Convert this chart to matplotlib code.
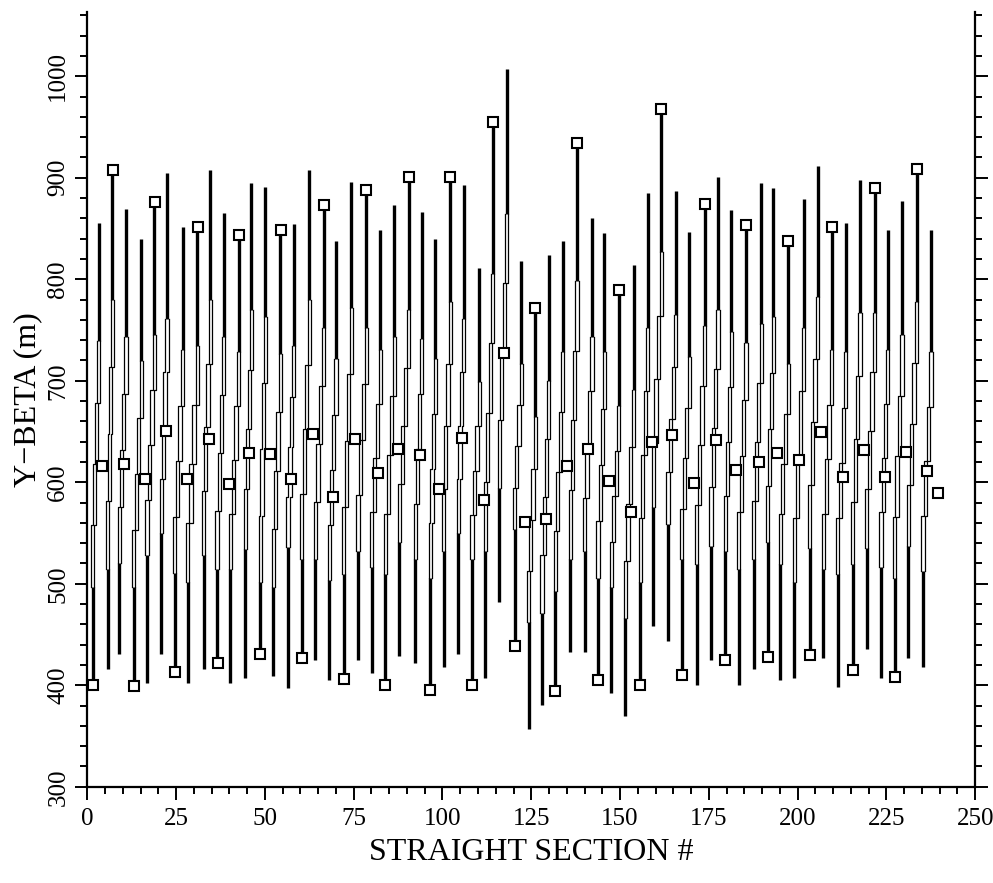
import matplotlib
matplotlib.use("Agg")
import matplotlib.pyplot as plt
from matplotlib.ticker import MultipleLocator

# peaks: x of the upper thick segment, peak beta, beta where the hollow part starts
top_x = [3.2, 7.0, 10.9, 15.2, 18.9, 22.4, 26.8, 30.9, 34.6, 38.4, 42.6, 46.2,
         50.1, 54.3, 58.1, 62.5, 66.5, 70.0, 74.3, 78.5, 82.5, 86.4, 90.5, 94.2,
         98.0, 102.2, 106.0, 110.4, 114.1, 118.1, 122.2, 126.1, 129.9, 133.8, 137.9,
         142.1, 145.6, 149.6, 153.8, 157.8, 161.6, 165.7, 169.5, 173.8, 177.6,
         181.3, 185.5, 189.8, 193.2, 197.4, 201.7, 205.7, 209.6, 213.6, 217.6,
         221.7, 225.4, 229.4, 233.6, 237.6]
top_beta = [855, 908, 869, 840, 880, 905, 852, 853, 908, 865, 846, 895,
            891, 849, 854, 908, 873, 838, 896, 888, 849, 873, 901, 866,
            840, 901, 893, 811, 955, 1007, 818, 772, 824, 838, 934,
            860, 846, 789, 814, 885, 968, 887, 847, 874, 901,
            868, 853, 895, 890, 838, 879, 912, 853, 855, 898,
            890, 849, 877, 910, 849]
top_tube = [739, 780, 743, 719, 745, 761, 730, 734, 780, 743, 728, 770,
            763, 726, 734, 780, 752, 721, 772, 752, 730, 743, 770, 741,
            721, 778, 761, 699, 805, 864, 717, 664, 700, 728, 798,
            743, 728, 675, 691, 752, 827, 765, 723, 754, 770,
            748, 737, 756, 763, 717, 752, 783, 730, 728, 767,
            767, 730, 745, 778, 728]

# troughs: x of the lower thick segment, minimum beta, beta where the hollow part ends
bot_x = [1.5, 5.7, 9.0, 13.0, 16.8, 20.8, 24.6, 28.3, 32.7, 36.5, 40.3, 44.5,
         48.7, 52.4, 56.5, 60.4, 64.2, 68.1, 72.2, 76.2, 80.1, 83.9, 87.8, 92.3,
         96.6, 100.3, 104.4, 108.3, 112.1, 116.0, 120.3, 124.3, 128.0, 131.8, 136.0,
         140.0, 143.8, 147.5, 151.5, 155.7, 159.4, 163.5, 167.4, 171.6, 175.6,
         179.6, 183.4, 187.6, 191.6, 195.1, 199.1, 203.4, 207.3, 211.3, 215.5,
         219.5, 223.5, 227.3, 231.2, 235.3]
bot_beta = [400, 416, 431, 399, 402, 431, 414, 402, 416, 420, 402, 407,
            431, 409, 397, 427, 425, 405, 406, 425, 412, 400, 429, 422,
            395, 418, 431, 400, 407, 482, 439, 357, 381, 394, 433,
            433, 405, 392, 370, 400, 458, 444, 410, 400, 425,
            425, 400, 416, 428, 405, 407, 429, 427, 398, 415,
            436, 407, 408, 427, 418]
bot_tube = [497, 515, 520, 497, 528, 550, 511, 502, 528, 515, 515, 534,
            502, 497, 536, 524, 524, 504, 510, 532, 517, 510, 541, 524,
            506, 532, 550, 524, 532, 594, 554, 462, 471, 493, 524,
            532, 506, 497, 466, 502, 576, 559, 524, 519, 537,
            532, 515, 524, 541, 519, 502, 535, 515, 510, 519,
            535, 517, 506, 537, 513]

# straight-section markers
mark_x = [1.5, 4.1, 7.1, 10.2, 13.0, 16.3, 19.1, 22.0, 24.7, 28.1, 31.1, 34.2,
          36.8, 39.8, 42.6, 45.4, 48.7, 51.5, 54.6, 57.4, 60.4, 63.5,
          66.5, 69.1, 72.2, 75.4, 78.5, 81.8, 83.9, 87.5, 90.5, 93.8, 96.6, 99.1,
          102.2, 105.5, 108.3, 111.6, 114.1, 117.2, 120.3, 123.3, 126.1, 129.1,
          131.8, 135.0, 137.9, 141.1, 143.8, 146.8, 149.6, 153.1, 155.7, 159.0,
          161.6, 164.6, 167.4, 170.7, 173.8, 177.0, 179.6, 182.6, 185.5, 189.0,
          191.6, 194.3, 197.4, 200.4, 203.4, 206.6, 209.6, 212.9, 215.5, 218.6,
          221.7, 224.7, 227.3, 230.5, 233.6, 236.4, 239.5]
mark_beta = [400, 616, 908, 618, 399, 603, 876, 651, 413, 603, 852, 643,
             422, 598, 844, 629, 431, 628, 849, 603, 427, 648,
             873, 585, 406, 643, 888, 609, 400, 633, 901, 627, 395, 593,
             901, 644, 400, 583, 955, 727, 439, 561, 772, 564,
             394, 616, 934, 633, 405, 601, 789, 571, 400, 640,
             968, 647, 410, 599, 874, 642, 425, 612, 853, 620,
             428, 629, 838, 622, 430, 650, 852, 605, 415, 632,
             890, 605, 408, 630, 909, 611, 589]

SERIF = ["Liberation Serif", "DejaVu Serif"]

fig = plt.figure(figsize=(9.93, 8.83), dpi=100)
ax = fig.add_axes([0.088, 0.109, 0.894, 0.877])

half = 0.45  # half width of the hollow part, in section units
nstep = 3    # small stairs in the hollow part
for tx, tb, tt, bx, bb, bt in zip(top_x, top_beta, top_tube, bot_x, bot_beta, bot_tube):
    ax.plot([tx, tx], [tt, tb], color="k", lw=2.4, solid_capstyle="butt")
    ax.plot([bx, bx], [bb, bt], color="k", lw=2.4, solid_capstyle="butt")
    for off in (-half, half):
        xs, ys = [tx + off], [tt]
        for k in range(1, nstep + 1):
            yk = tt + (bt - tt) * k / (nstep + 1)
            xprev = tx + (bx - tx) * (k - 1) / nstep
            xk = tx + (bx - tx) * k / nstep
            xs += [xprev + off, xk + off]
            ys += [yk, yk]
        xs.append(bx + off)
        ys.append(bt)
        ax.plot(xs, ys, color="k", lw=0.9)

ax.plot(mark_x, mark_beta, "s", ms=6.5, mfc="white", mec="k", mew=1.5, zorder=5)

ax.set_xlim(0, 250)
ax.set_ylim(300, 1063)
ax.xaxis.set_major_locator(MultipleLocator(25))
ax.xaxis.set_minor_locator(MultipleLocator(5))
ax.yaxis.set_minor_locator(MultipleLocator(20))
ax.set_yticks(range(300, 1001, 100))

ax.spines["top"].set_visible(False)
for s in ("left", "right", "bottom"):
    ax.spines[s].set_linewidth(1.6)

ax.tick_params(which="both", direction="out", width=1.4, right=True, labelright=False)
ax.tick_params(which="major", length=9)
ax.tick_params(which="minor", length=5)
ax.tick_params(axis="x", labelsize=18, pad=6)
ax.tick_params(axis="y", labelsize=18, pad=4)
for lab in ax.get_xticklabels():
    lab.set_family(SERIF)
for lab in ax.get_yticklabels():
    lab.set_family(SERIF)
    lab.set_rotation(90)
    lab.set_va("center")

ax.set_xlabel("STRAIGHT SECTION #", family=SERIF, fontsize=23, labelpad=6)
ax.set_ylabel("Y\u2212BETA (m)", family=SERIF, fontsize=23, labelpad=4)

fig.savefig("out.png", dpi=100)
